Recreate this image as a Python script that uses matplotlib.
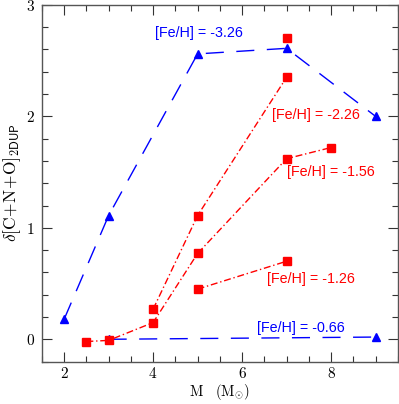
import matplotlib
matplotlib.use("Agg")
import matplotlib.pyplot as plt
from matplotlib.ticker import MultipleLocator

plt.rcParams["mathtext.fontset"] = "cm"

# blue series (triangles, dashed)
m_326 = [2, 3, 5, 7, 9]
d_326 = [0.18, 1.11, 2.56, 2.61, 2.0]
m_066 = [3, 9]
d_066 = [0.0, 0.02]

# red series (squares, dash-dot)
m_226 = [4, 5, 7]
d_226 = [0.27, 1.11, 2.35]
m_156 = [2.5, 3, 4, 5, 7, 8]
d_156 = [-0.02, -0.01, 0.15, 0.77, 1.62, 1.72]
m_126 = [5, 7]
d_126 = [0.45, 0.70]
m_extra = [7]
d_extra = [2.70]

labels = ["[Fe/H] = -3.26", "[Fe/H] = -2.26", "[Fe/H] = -1.56",
          "[Fe/H] = -1.26", "[Fe/H] = -0.66"]

BLUE = "#0000ff"
RED = "#ff0000"

fig = plt.figure(figsize=(3.99, 4.04), dpi=100)
ax = fig.add_axes([0.105, 0.105, 0.892, 0.883])

dash = (0, (13, 9))
ax.plot(m_326, d_326, color=BLUE, lw=1.0, ls=dash, marker="^", ms=6)
ax.plot(m_066, d_066, color=BLUE, lw=1.0, ls=dash, marker="^", ms=6)

dashdot = (0, (5, 2, 1, 2))
for m, d in [(m_226, d_226), (m_156, d_156), (m_126, d_126)]:
    ax.plot(m, d, color=RED, lw=1.0, ls=dashdot, marker="s", ms=6)
ax.plot(m_extra, d_extra, color=RED, ls="none", marker="s", ms=6)

lab_font = dict(family="Liberation Sans", fontsize=10.3, va="center", ha="left")
ax.text(4.04, 2.75, labels[0], color=BLUE, **lab_font)
ax.text(6.68, 2.01, labels[1], color=RED, **lab_font)
ax.text(7.0, 1.50, labels[2], color=RED, **lab_font)
ax.text(6.55, 0.54, labels[3], color=RED, **lab_font)
ax.text(6.34, 0.10, labels[4], color=BLUE, **lab_font)

ax.set_xlim(1.5, 9.5)
ax.set_ylim(-0.2, 3.0)
ax.xaxis.set_major_locator(MultipleLocator(2))
ax.xaxis.set_minor_locator(MultipleLocator(0.5))
ax.yaxis.set_major_locator(MultipleLocator(1))
ax.yaxis.set_minor_locator(MultipleLocator(0.2))
ax.tick_params(which="both", direction="in", top=True, right=True, color="#333333")
ax.tick_params(which="major", length=7, width=0.8, labelsize=11)
ax.tick_params(axis="x", which="major", pad=3)
ax.tick_params(axis="y", which="major", pad=5)
ax.tick_params(which="minor", length=4, width=0.8)
ax.set_xticklabels([f"${int(t)}$" for t in ax.get_xticks()])
ax.set_yticklabels([f"${int(t)}$" for t in ax.get_yticks()])
for s in ax.spines.values():
    s.set_color("#555555")
    s.set_linewidth(1.0)

ax.set_xlabel(r"$\rm M\quad (M_{\odot})$", fontsize=10.5)
ax.xaxis.set_label_coords(0.5, -0.096)
ax.xaxis.label.set_va("baseline")
ax.set_ylabel(r"$\delta[\rm C\!+\!N\!+\!O]_{\mathsf{2DUP}}$", fontsize=12.5, labelpad=2)

fig.savefig("out.png", dpi=100)
